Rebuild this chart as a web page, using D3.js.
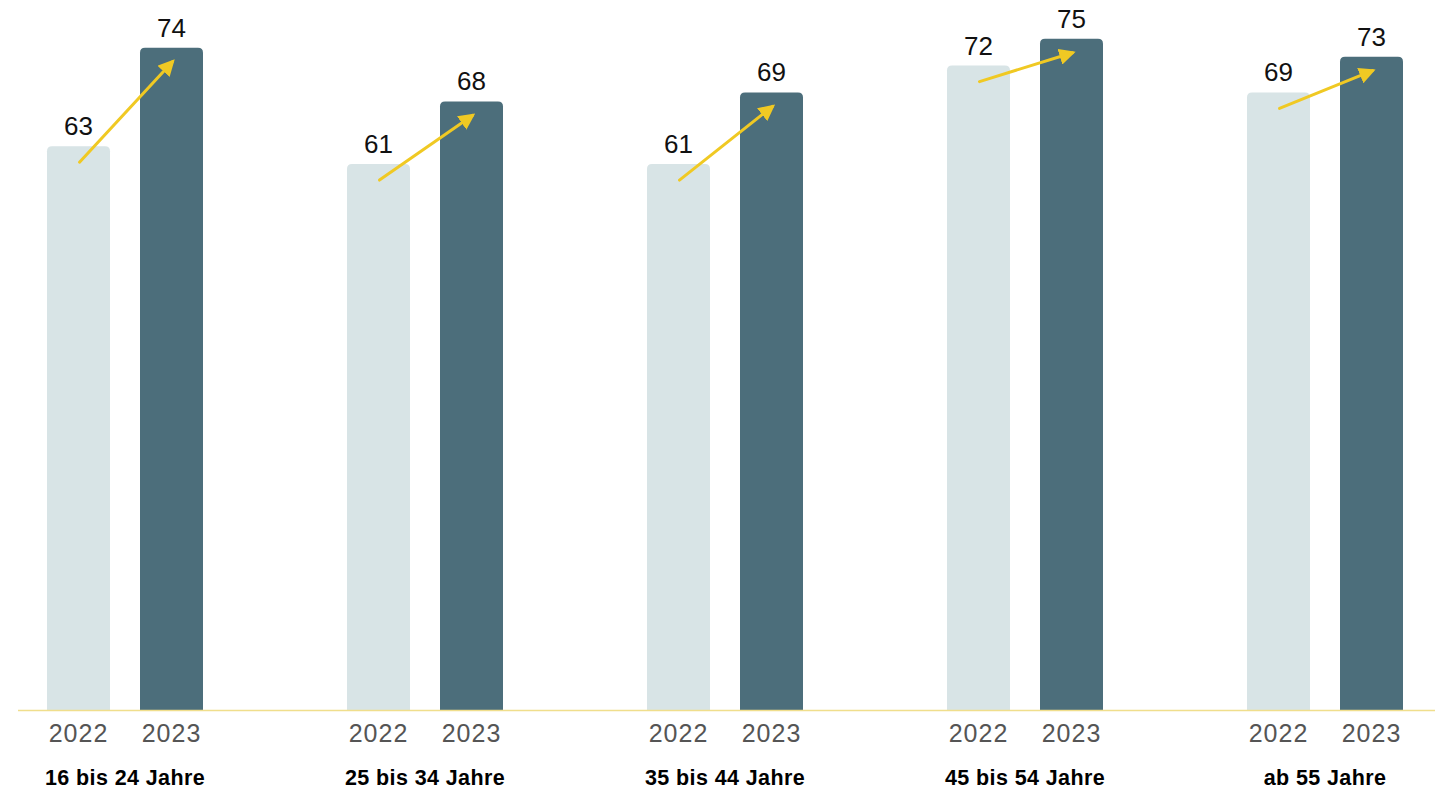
<!DOCTYPE html>
<html>
<head>
<meta charset="utf-8">
<script src="https://cdn.jsdelivr.net/npm/d3@7"></script>
<style>
  html, body { margin: 0; padding: 0; background: #ffffff; overflow: hidden; }
  svg { display: block; font-family: "Liberation Sans", Arial, Helvetica, sans-serif; }
</style>
</head>
<body>
<svg id="chart" width="1435" height="791"></svg>
<script>
const categories = ["16 bis 24 Jahre", "25 bis 34 Jahre", "35 bis 44 Jahre", "45 bis 54 Jahre", "ab 55 Jahre"];
const years = ["2022", "2023"];
const values2022 = [63, 61, 61, 72, 69];
const values2023 = [74, 68, 69, 75, 73];

const colors = { "2022": "#d8e4e6", "2023": "#4c6e7b" };
const arrowColor = "#f0c923";

const svg = d3.select("#chart");
const baseY = 710;

const x0 = d3.scaleBand().domain(categories).range([47, 1403]).paddingInner(0.48).paddingOuter(0);
const x1 = d3.scaleBand().domain(years).range([0, x0.bandwidth()]).paddingInner(30 / 93).paddingOuter(0);
const y = d3.scaleLinear().domain([0, 79.33]).range([baseY, 0]);

const data = categories.map((c, i) => ({ cat: c, vals: { "2022": values2022[i], "2023": values2023[i] } }));

svg.append("defs").append("marker")
  .attr("id", "arrowhead")
  .attr("viewBox", "0 0 10 10")
  .attr("refX", 8).attr("refY", 5)
  .attr("markerWidth", 5.5).attr("markerHeight", 5.5)
  .attr("markerUnits", "strokeWidth")
  .attr("orient", "auto")
  .append("path").attr("d", "M0,0 L10,5 L0,10 Z").attr("fill", arrowColor);

function topRounded(x, yTop, w, h, r) {
  r = Math.min(r, h, w / 2);
  return `M${x},${yTop + h} L${x},${yTop + r} Q${x},${yTop} ${x + r},${yTop} L${x + w - r},${yTop} Q${x + w},${yTop} ${x + w},${yTop + r} L${x + w},${yTop + h} Z`;
}

const groups = svg.selectAll("g.grp").data(data).enter().append("g")
  .attr("class", "grp")
  .attr("transform", d => `translate(${x0(d.cat)},0)`);

groups.selectAll("path.bar").data(d => years.map(yr => ({ yr, v: d.vals[yr] }))).enter()
  .append("path").attr("class", "bar")
  .attr("d", d => topRounded(x1(d.yr), y(d.v), x1.bandwidth(), baseY - y(d.v), 5))
  .attr("fill", d => colors[d.yr]);

groups.selectAll("text.val").data(d => years.map(yr => ({ yr, v: d.vals[yr] }))).enter()
  .append("text").attr("class", "val")
  .attr("x", d => x1(d.yr) + x1.bandwidth() / 2)
  .attr("y", d => y(d.v) - 11)
  .attr("text-anchor", "middle")
  .attr("font-size", 26)
  .attr("fill", "#111")
  .text(d => d.v);

// axis baseline
svg.append("line")
  .attr("x1", 18).attr("x2", 1435)
  .attr("y1", baseY + 0.5).attr("y2", baseY + 0.5)
  .attr("stroke", "#f0de8c").attr("stroke-width", 1.5);

// arrows
groups.append("line")
  .attr("x1", d => x1("2022") + x1.bandwidth() / 2 + 1)
  .attr("y1", d => y(d.vals["2022"]) + 16)
  .attr("x2", d => x1("2023") + x1.bandwidth() / 2 + 1)
  .attr("y2", d => y(d.vals["2023"]) + 14)
  .attr("stroke", arrowColor)
  .attr("stroke-width", 3)
  .attr("stroke-linecap", "round")
  .attr("marker-end", "url(#arrowhead)");

// year labels
groups.selectAll("text.yr").data(years).enter()
  .append("text").attr("class", "yr")
  .attr("x", d => x1(d) + x1.bandwidth() / 2)
  .attr("y", 742)
  .attr("text-anchor", "middle")
  .attr("font-size", 25)
  .attr("letter-spacing", 1)
  .attr("fill", "#555555")
  .text(d => d);

// category labels
groups.append("text")
  .attr("x", x0.bandwidth() / 2)
  .attr("y", 785)
  .attr("text-anchor", "middle")
  .attr("font-size", 21.5)
  .attr("letter-spacing", 0.4)
  .attr("font-weight", "bold")
  .attr("fill", "#000")
  .text(d => d.cat);
</script>
</body>
</html>
